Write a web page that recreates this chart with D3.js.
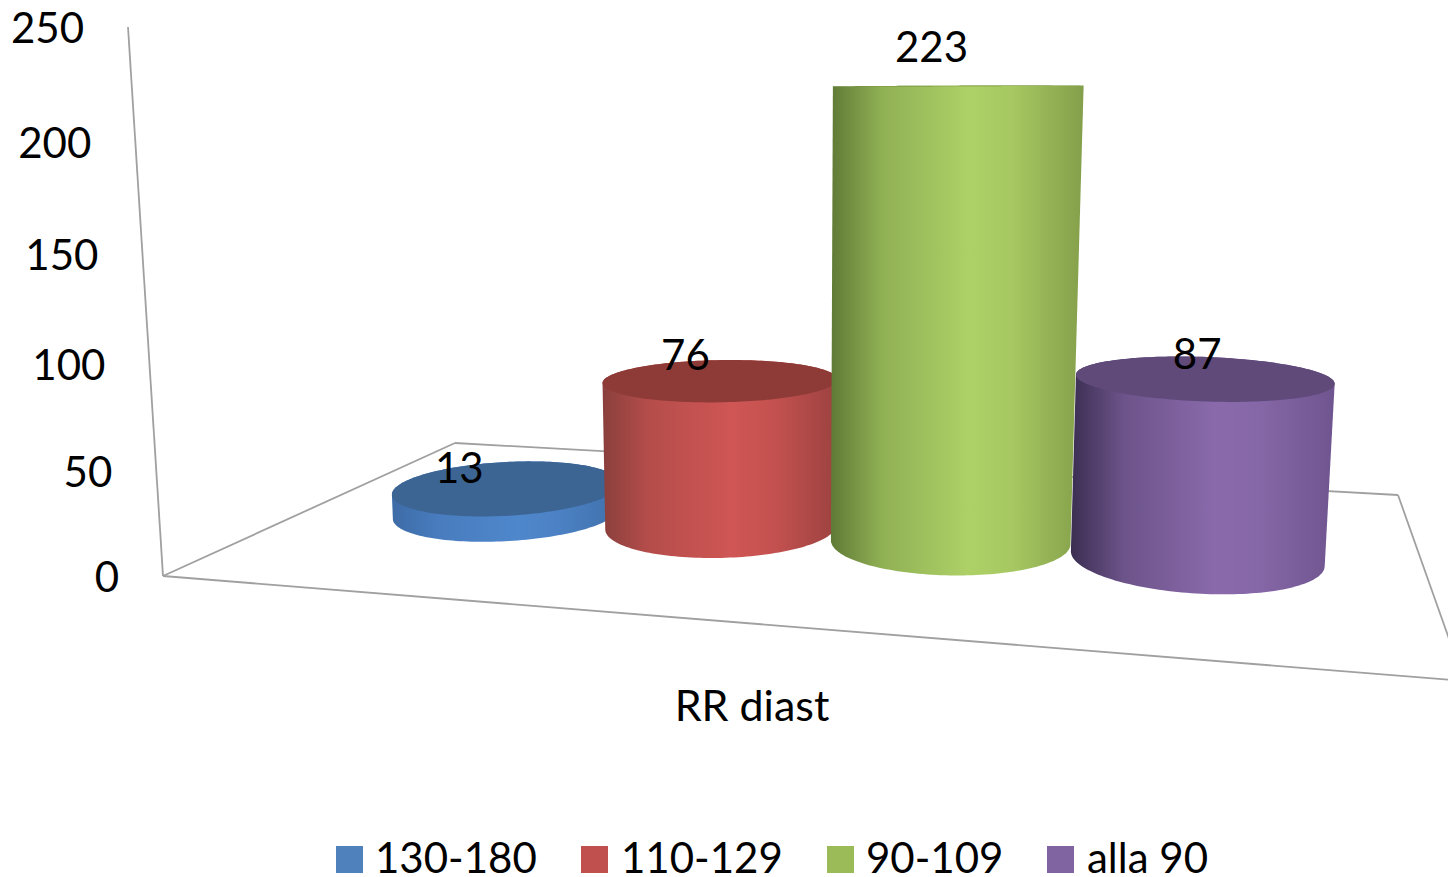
<!DOCTYPE html>
<html>
<head>
<meta charset="utf-8">
<script src="https://cdn.jsdelivr.net/npm/d3@7"></script>
<style>
  html, body { margin: 0; padding: 0; background: #fff; overflow: hidden; }
  svg { display: block; }
  text { font-family: Lato, "Open Sans", sans-serif; fill: #000; }
</style>
</head>
<body>
<svg id="chart" width="1448" height="877"></svg>
<script>
// Chart values
const seriesNames = ["130-180", "110-129", "90-109", "alla 90"];
const seriesValues = [13, 76, 223, 87];
const axisTicks = [0, 50, 100, 150, 200, 250];
const categoryLabel = "RR diast";

// Colours: flat legend tone, lid tone, and the three shading stops of each body
const legendColors = ["#4f81bd", "#c0504d", "#9bbb59", "#8064a2"];
const lidColors = ["#3d6594", "#8e3b38", "#76903f", "#5f4a7a"];
const shadeLeft = ["#3d6ba6", "#8a3f3c", "#5f7a36", "#3b2e52"];
const shadeMid = ["#4f87cc", "#cf5654", "#aed167", "#8a6aab"];
const shadeRight = ["#3f70aa", "#9c4240", "#849f4a", "#6f5590"];

// Floor corners on screen, and the top of the value axis
const floorQuad = [[163, 576], [1464, 681], [1398, 495], [455, 443]];
const axisTop = [128, 27];
const verticalW = -0.053;

// Projective map (u, w, h) -> screen; u runs across, w into the depth, h upward
function makeProjection() {
  const [[x0, y0], [x1, y1], [x2, y2], [x3, y3]] = floorQuad;
  const dx1 = x1 - x2, dx2 = x3 - x2, sx = x0 - x1 + x2 - x3;
  const dy1 = y1 - y2, dy2 = y3 - y2, sy = y0 - y1 + y2 - y3;
  const den = dx1 * dy2 - dx2 * dy1;
  const g = (sx * dy2 - dx2 * sy) / den;
  const h = (dx1 * sy - sx * dy1) / den;
  const a = x1 - x0 + g * x1, b = x3 - x0 + h * x3;
  const d = y1 - y0 + g * y1, e = y3 - y0 + h * y3;
  const px = axisTop[0] * (1 + verticalW) - x0;
  const py = axisTop[1] * (1 + verticalW) - y0;
  return (u, w, z) => {
    const q = g * u + h * w + verticalW * z + 1;
    return [(a * u + b * w + px * z + x0) / q, (d * u + e * w + py * z + y0) / q];
  };
}
const project = makeProjection();

const uScale = d3.scaleBand().domain(seriesNames).range([0.08, 0.922]).paddingInner(0).paddingOuter(0);
const hScale = d3.scaleLinear().domain([0, 250]).range([0, 1]);
const depthCentre = 0.5, radiusU = 0.1045, radiusW = 0.205;

const svg = d3.select("#chart");
const defs = svg.append("defs");

// Walls and floor outline
const axisColor = "#a0a0a0";
const outline = [
  [project(0, 0, 1), project(0, 0, 0)],
  [project(0, 0, 0), project(1, 0, 0)],
  [project(1, 0, 0), project(1, 1, 0)],
  [project(1, 1, 0), project(0, 1, 0)],
  [project(0, 1, 0), project(0, 0, 0)]
];
svg.append("g").selectAll("line").data(outline).join("line")
  .attr("x1", d => d[0][0]).attr("y1", d => d[0][1])
  .attr("x2", d => d[1][0]).attr("y2", d => d[1][1])
  .attr("stroke", axisColor).attr("stroke-width", 1.8);

// Value axis labels follow the leaning axis
svg.append("g").selectAll("text").data(axisTicks).join("text")
  .attr("x", d => project(0, 0, hScale(d))[0] - 44)
  .attr("y", d => project(0, 0, hScale(d))[1] + 16)
  .attr("text-anchor", "end")
  .attr("font-size", 42)
  .text(d => d);

// Cylinders, left to right so that each overlaps the previous one
const angles = d3.range(0, 360, 2).map(d => d * Math.PI / 180);
const ring = (name, z) => angles.map(t => project(
  uScale(name) + uScale.bandwidth() / 2 + radiusU * Math.cos(t),
  depthCentre + radiusW * Math.sin(t),
  z));
const pathOf = pts => "M" + pts.map(p => p.join(",")).join("L") + "Z";

seriesNames.forEach((name, i) => {
  const grad = defs.append("linearGradient").attr("id", "body" + i);
  [[0, shadeLeft[i]], [0.2, d3.interpolateRgb(shadeLeft[i], shadeMid[i])(0.62)],
   [0.55, shadeMid[i]], [0.72, d3.interpolateRgb(shadeMid[i], shadeRight[i])(0.2)], [1, shadeRight[i]]]
    .forEach(([o, c]) => grad.append("stop").attr("offset", o).attr("stop-color", c));

  const z = hScale(seriesValues[i]);
  const base = ring(name, 0), lid = ring(name, z);
  svg.append("path").attr("d", pathOf(d3.polygonHull(base.concat(lid)))).attr("fill", `url(#body${i})`);
  svg.append("path").attr("d", pathOf(lid)).attr("fill", lidColors[i]);
});

// Value labels sit near each lid
const labelShift = [[-48, -4], [-35, -10], [-26, -24], [-6, -8]];
svg.append("g").selectAll("text").data(seriesValues).join("text")
  .attr("x", (d, i) => project(uScale(seriesNames[i]) + uScale.bandwidth() / 2, depthCentre, hScale(d))[0] + labelShift[i][0])
  .attr("y", (d, i) => project(uScale(seriesNames[i]) + uScale.bandwidth() / 2, depthCentre, hScale(d))[1] + labelShift[i][1])
  .attr("text-anchor", "middle")
  .attr("font-size", 42)
  .text(d => d);

// Category title
svg.append("text").attr("x", 752).attr("y", 721).attr("text-anchor", "middle")
  .attr("font-size", 43).text(categoryLabel);

// Legend row
const legendSwatchX = [336, 581, 827, 1047];
const legendTextX = [375, 621, 866, 1087];
const legend = svg.append("g");
legend.selectAll("rect").data(seriesNames).join("rect")
  .attr("x", (d, i) => legendSwatchX[i]).attr("y", 846)
  .attr("width", 27).attr("height", 27)
  .attr("fill", (d, i) => legendColors[i]);
legend.selectAll("text").data(seriesNames).join("text")
  .attr("x", (d, i) => legendTextX[i]).attr("y", 873)
  .attr("font-size", 42)
  .text(d => d);
</script>
</body>
</html>
